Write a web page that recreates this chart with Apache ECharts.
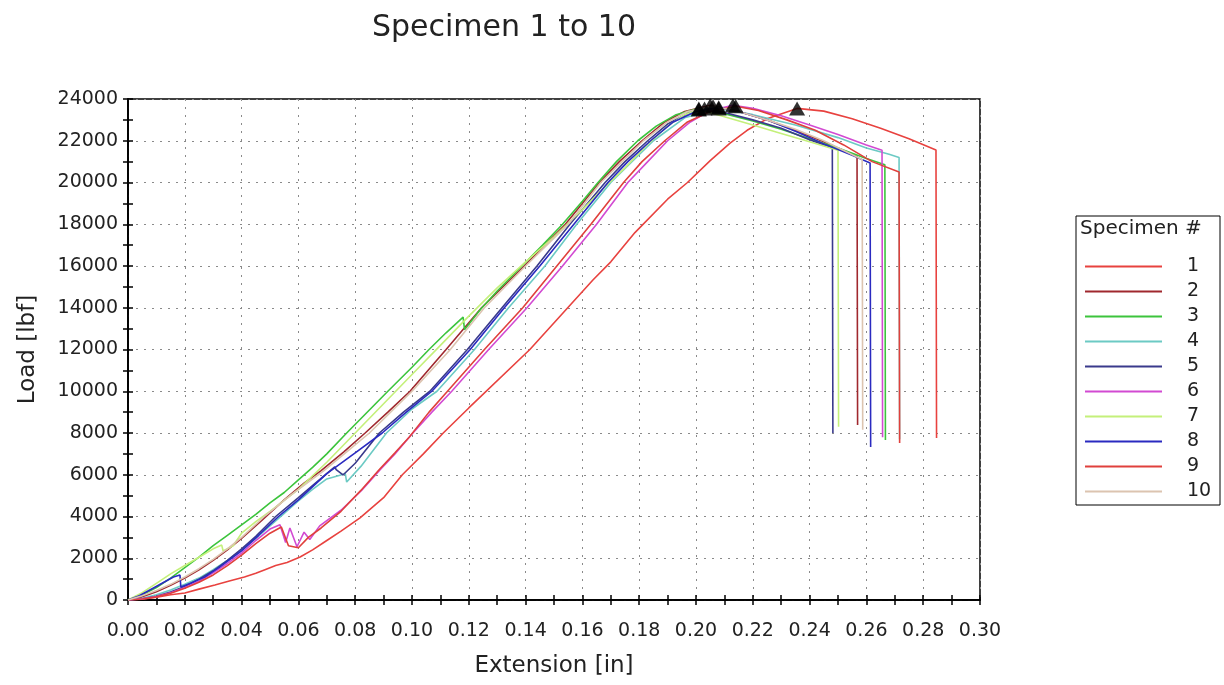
<!DOCTYPE html>
<html><head><meta charset="utf-8">
<script src="https://cdn.jsdelivr.net/npm/echarts@6/dist/echarts.min.js"></script>
<style>html,body{margin:0;padding:0;background:#fff}#c{width:1224px;height:685px}</style>
</head><body><div id="c"></div>
<script>
// ---- DATA ----
const titleText = 'Specimen 1 to 10';
const xName = 'Extension [in]';
const yName = 'Load [lbf]';
const legendTitle = 'Specimen #';
const specimenNames = ['1','2','3','4','5','6','7','8','9','10'];

// [extension (in), load (lbf)]
const s1 = [[0,0],[0.005,40],[0.0106,144],[0.015,250],[0.02,335],[0.025,520],[0.0306,720],[0.036,920],[0.041,1100],[0.045,1280],[0.048,1440],[0.052,1650],[0.056,1800],[0.0606,2060],[0.065,2400],[0.07,2850],[0.075,3300],[0.0817,3930],[0.09,4900],[0.0966,6000],[0.104,7000],[0.111,8000],[0.12,9200],[0.1415,12000],[0.1637,15330],[0.17,16200],[0.1785,17600],[0.19,19200],[0.197,20000],[0.205,21050],[0.212,21890],[0.218,22500],[0.225,23050],[0.2356,23550],[0.245,23420],[0.255,23050],[0.265,22600],[0.275,22100],[0.2845,21560],[0.2847,7760]];
const s2 = [[0,0],[0.005,150],[0.01,400],[0.015,700],[0.02,1050],[0.025,1450],[0.03,1900],[0.035,2400],[0.04,2950],[0.047,3800],[0.055,4800],[0.062,5600],[0.068,6200],[0.076,7100],[0.0835,8000],[0.0915,9000],[0.0993,10000],[0.112,12000],[0.1245,14000],[0.1395,16000],[0.154,18000],[0.166,20000],[0.173,21000],[0.181,22000],[0.189,22900],[0.196,23400],[0.205,23700],[0.215,23400],[0.225,23000],[0.235,22500],[0.245,21950],[0.2567,21250],[0.2569,8380]];
const s3 = [[0,0],[0.005,250],[0.01,600],[0.015,1050],[0.02,1550],[0.025,2050],[0.03,2600],[0.035,3100],[0.04,3600],[0.045,4100],[0.05,4650],[0.055,5150],[0.06,5750],[0.065,6350],[0.07,7000],[0.077,8000],[0.085,9100],[0.0915,10000],[0.1,11150],[0.106,12000],[0.112,12800],[0.118,13550],[0.1185,12950],[0.124,13900],[0.13,14800],[0.1387,16000],[0.146,17000],[0.153,18000],[0.16,19100],[0.1655,20000],[0.172,21000],[0.1795,22000],[0.186,22700],[0.193,23250],[0.201,23550],[0.21,23300],[0.22,22950],[0.23,22550],[0.24,22100],[0.25,21650],[0.26,21150],[0.2665,20850],[0.2667,7660]];
const s4 = [[0,0],[0.005,80],[0.01,250],[0.015,480],[0.02,750],[0.025,1050],[0.03,1450],[0.035,1900],[0.04,2400],[0.045,2950],[0.05,3550],[0.055,4150],[0.06,4750],[0.065,5300],[0.07,5800],[0.0765,6050],[0.077,5650],[0.082,6400],[0.091,8000],[0.1,9150],[0.1088,10000],[0.122,12000],[0.134,14000],[0.1468,16000],[0.158,18000],[0.17,20000],[0.185,22000],[0.196,23100],[0.208,23550],[0.22,23250],[0.235,22750],[0.25,22150],[0.26,21650],[0.268,21350],[0.2715,21200],[0.2717,7700]];
const s5 = [[0,0],[0.005,60],[0.01,180],[0.015,380],[0.02,650],[0.025,1000],[0.03,1400],[0.035,1900],[0.04,2450],[0.045,3050],[0.052,4000],[0.06,4900],[0.066,5600],[0.0728,6380],[0.0733,6250],[0.0757,5990],[0.08,6550],[0.0885,8000],[0.097,9000],[0.1063,10000],[0.1195,12000],[0.1317,14000],[0.144,16000],[0.1556,18000],[0.168,20000],[0.175,21000],[0.183,22000],[0.19,22800],[0.197,23300],[0.203,23550],[0.21,23350],[0.22,23000],[0.23,22600],[0.24,22050],[0.248,21650],[0.2482,8000]];
const s6 = [[0,0],[0.005,60],[0.01,170],[0.015,350],[0.02,600],[0.025,900],[0.03,1300],[0.035,1750],[0.04,2250],[0.045,2850],[0.05,3400],[0.0535,3600],[0.0555,2750],[0.057,3450],[0.0595,2550],[0.062,3250],[0.064,2900],[0.0675,3550],[0.075,4300],[0.0824,5270],[0.0887,6230],[0.094,7000],[0.1,7950],[0.107,9000],[0.114,10000],[0.127,12000],[0.1405,14000],[0.153,16000],[0.165,18000],[0.176,20000],[0.183,21000],[0.19,22000],[0.198,22900],[0.205,23450],[0.213,23700],[0.22,23550],[0.23,23200],[0.24,22750],[0.25,22300],[0.26,21800],[0.2655,21550],[0.2657,7800]];
const s7 = [[0,0],[0.005,350],[0.01,800],[0.015,1250],[0.02,1650],[0.025,2050],[0.03,2450],[0.033,2630],[0.0335,2350],[0.037,2600],[0.04,3200],[0.045,3750],[0.05,4250],[0.06,5300],[0.07,6600],[0.08,8000],[0.09,9400],[0.1,10800],[0.11,12200],[0.12,13600],[0.13,14950],[0.14,16200],[0.15,17400],[0.16,18700],[0.168,19800],[0.175,20700],[0.182,21700],[0.19,22700],[0.196,23250],[0.201,23500],[0.21,23150],[0.22,22750],[0.23,22350],[0.24,21950],[0.25,21550],[0.2502,8300]];
const s8 = [[0,0],[0.004,200],[0.008,500],[0.012,800],[0.016,1100],[0.0183,1200],[0.0186,620],[0.022,800],[0.027,1100],[0.032,1550],[0.04,2350],[0.046,3100],[0.053,4000],[0.06,4800],[0.07,6050],[0.08,7050],[0.0895,8000],[0.098,9000],[0.107,10000],[0.1205,12000],[0.1325,14000],[0.145,16000],[0.157,18000],[0.169,20000],[0.176,21000],[0.184,22000],[0.192,22900],[0.2,23400],[0.208,23600],[0.215,23400],[0.225,23000],[0.235,22450],[0.245,21850],[0.255,21300],[0.2613,20930],[0.2615,7330]];
const s9 = [[0,0],[0.005,50],[0.01,150],[0.015,320],[0.02,560],[0.025,850],[0.03,1200],[0.035,1650],[0.04,2150],[0.045,2700],[0.05,3200],[0.054,3500],[0.0565,2600],[0.06,2500],[0.0635,3000],[0.068,3450],[0.075,4250],[0.082,5250],[0.0885,6250],[0.094,7050],[0.099,7800],[0.106,9000],[0.1125,10000],[0.1255,12000],[0.139,14000],[0.151,16000],[0.163,18000],[0.1745,20000],[0.181,21000],[0.189,22000],[0.197,22900],[0.205,23400],[0.214,23650],[0.222,23450],[0.232,23000],[0.242,22500],[0.252,21800],[0.262,21000],[0.2715,20500],[0.2717,7520]];
const s10 = [[0,0],[0.005,200],[0.01,450],[0.015,750],[0.02,1100],[0.025,1500],[0.03,1950],[0.035,2450],[0.04,3000],[0.048,4000],[0.058,5100],[0.069,6200],[0.077,7100],[0.085,8000],[0.1,10000],[0.1135,12000],[0.1255,14000],[0.14,16000],[0.155,18000],[0.1665,20000],[0.174,21000],[0.1815,22000],[0.19,22900],[0.197,23400],[0.206,23650],[0.215,23400],[0.225,23000],[0.235,22550],[0.245,22000],[0.2585,21100],[0.2587,8150]];
const allSeries = [s1,s2,s3,s4,s5,s6,s7,s8,s9,s10];

// axis ranges
const xMin = 0, xMax = 0.30, xStep = 0.02;
const yMin = 0, yMax = 24000, yStep = 2000;

// ---- STYLE ----
const colors = ['#e8423f','#a0282e','#3cc43c','#6ccac4','#3a3a8c','#d24ad2','#c4f07a','#2a2ac0','#e0403c','#dcc4b0'];
const FONT = 'DejaVu Sans';
const TXT = '#222';

const peaks = allSeries.map(s => s.reduce((a,b) => b[1] > a[1] ? b : a));

const series = allSeries.map((d,i) => ({
  name: specimenNames[i], type: 'line', data: d, showSymbol: false, symbol: 'none',
  lineStyle: { width: 1.6, color: colors[i] }, itemStyle: { color: colors[i] },
  z: 2, silent: true
}));
series.push({
  name: 'peak', type: 'scatter', data: peaks, symbol: 'triangle', symbolSize: [16, 14],
  itemStyle: { color: '#000' }, z: 5, silent: true
});

const axisCommon = {
  axisLine: { lineStyle: { color: '#000', width: 1.5 } },
  axisTick: { length: 5, lineStyle: { color: '#000', width: 1.5 } },
  minorTick: { show: true, splitNumber: 2, length: 5, lineStyle: { color: '#000', width: 1.5 } }
};

const chart = echarts.init(document.getElementById('c'), null, { renderer: 'canvas' });
chart.setOption({
  animation: false,
  backgroundColor: '#fff',
  title: { text: titleText, left: 499, top: 8, textAlign: 'center',
    textStyle: { fontFamily: FONT, fontSize: 30, fontWeight: 'normal', color: TXT } },
  grid: { left: 128, right: 244, top: 99, bottom: 85, show: true, borderColor: '#000', borderWidth: 1.5, backgroundColor: 'transparent' },
  legend: {
    data: specimenNames, orient: 'vertical', left: 1080, top: 252,
    icon: 'rect', itemWidth: 77, itemHeight: 2, itemGap: 6,
    textStyle: { fontFamily: FONT, fontSize: 19, color: TXT, lineHeight: 17, padding: [0,0,0,20] },
    selectedMode: false
  },
  graphic: [
    { type: 'rect', shape: { x: 1076, y: 216, width: 144, height: 289 }, style: { fill: 'none', stroke: '#000', lineWidth: 1 } },
    { type: 'text', x: 1080, y: 219, style: { text: legendTitle, font: '20px "DejaVu Sans"', fill: TXT } }
  ],
  xAxis: [
    Object.assign({}, axisCommon, {
      type: 'value', min: xMin, max: xMax, interval: xStep, position: 'bottom',
      name: xName, nameLocation: 'middle', nameGap: 55,
      nameTextStyle: { fontFamily: FONT, fontSize: 23, color: TXT },
      axisLabel: { fontFamily: FONT, fontSize: 19, color: TXT, margin: 22, formatter: v => v.toFixed(2) },
      splitLine: { show: true, lineStyle: { color: '#8a8a8a', type: [2, 6], width: 1 } }
    }),
    Object.assign({}, axisCommon, {
      type: 'value', min: xMin, max: xMax, interval: xStep, position: 'bottom', offset: 0,
      axisTick: { inside: true, length: 5, lineStyle: { color: '#000', width: 1.5 } },
      minorTick: { show: true, splitNumber: 2, length: 5, lineStyle: { color: '#000', width: 1.5 } },
      axisLabel: { show: false }, splitLine: { show: false }
    })
  ],
  yAxis: [
    Object.assign({}, axisCommon, {
      type: 'value', min: yMin, max: yMax, interval: yStep, position: 'left',
      name: yName, nameLocation: 'middle', nameGap: 88,
      nameTextStyle: { fontFamily: FONT, fontSize: 23, color: TXT },
      axisLabel: { fontFamily: FONT, fontSize: 19, color: TXT, margin: 10, formatter: v => String(v) },
      splitLine: { show: true, lineStyle: { color: '#8a8a8a', type: [2, 6], width: 1 } }
    }),
    Object.assign({}, axisCommon, {
      type: 'value', min: yMin, max: yMax, interval: yStep, position: 'left', offset: 0,
      axisTick: { inside: true, length: 5, lineStyle: { color: '#000', width: 1.5 } },
      minorTick: { show: true, splitNumber: 2, length: 5, lineStyle: { color: '#000', width: 1.5 } },
      axisLabel: { show: false }, splitLine: { show: false }
    })
  ],
  series: series
});
</script></body></html>
